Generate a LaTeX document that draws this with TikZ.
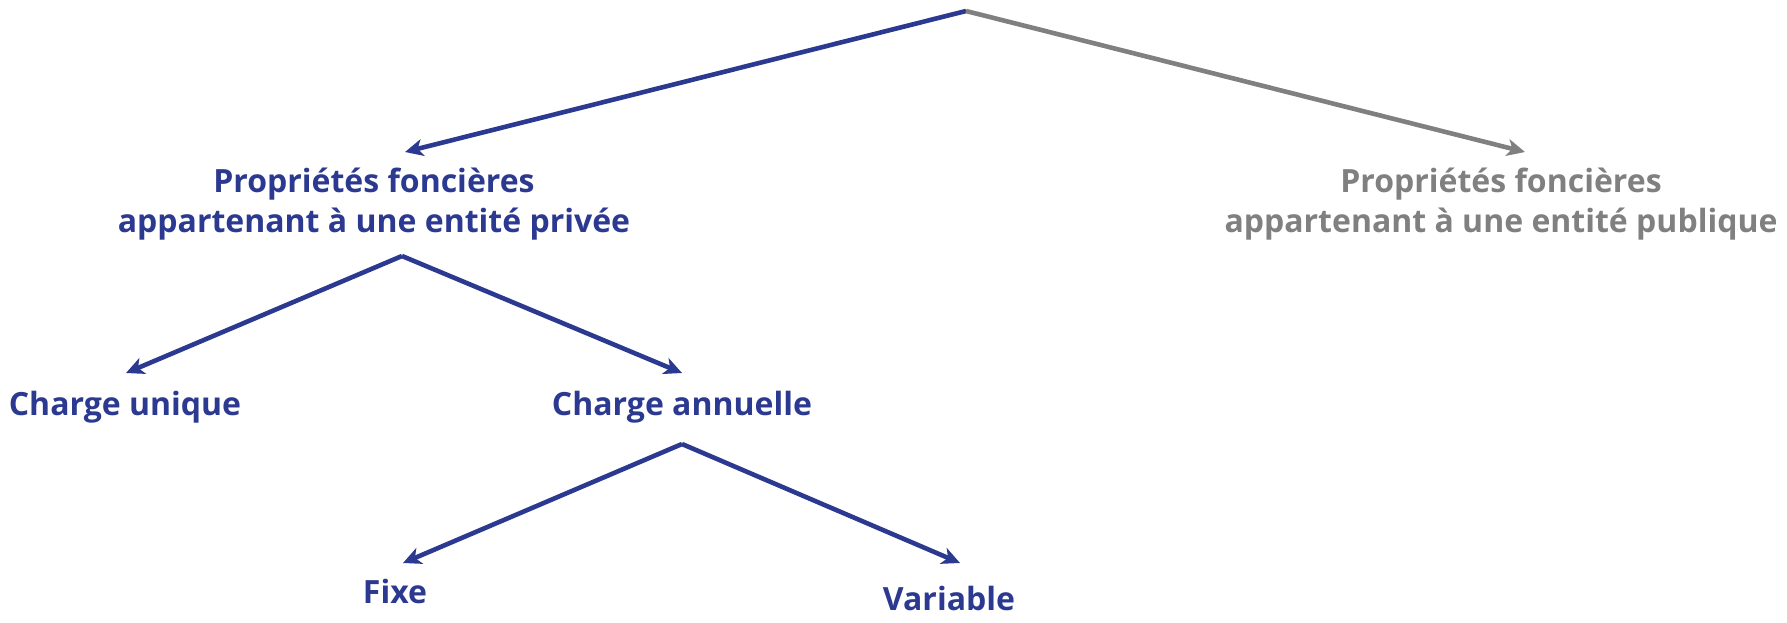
\documentclass[tikz,border=0pt]{standalone}
\usepackage{fontspec}
\setmainfont{Open Sans}
\usetikzlibrary{arrows.meta}
\definecolor{navy}{HTML}{2B3990}
\definecolor{greyline}{HTML}{808080}
\begin{document}
\begin{tikzpicture}[x=0.5pt,y=-0.5pt,
  lbl/.style={font=\bfseries\fontsize{16}{20}\selectfont, text=navy, inner sep=0pt, align=center, anchor=base},
  link/.style={draw=navy, line width=2.3pt, line join=round,
               -{Stealth[length=9pt,width=8.5pt,inset=2.5pt]}},
  greylink/.style={link, draw=greyline},
]
\useasboundingbox (0,0) rectangle (1787,622);

% branching points
\coordinate (root) at (966,11);
\coordinate (privFork) at (402,256);
\coordinate (annFork) at (682,444);

% labels (two-line labels are anchored on their last baseline)
\node[lbl] (priv) at (374,232) {Propriétés foncières\\appartenant à une entité privée};
\node[lbl, text=greyline] (pub) at (1501,232) {Propriétés foncières\\appartenant à une entité publique};
\node[lbl] (unique) at (125,415) {Charge unique};
\node[lbl] (annual) at (682,415) {Charge annuelle};
\node[lbl] (fixe) at (395,603) {Fixe};
\node[lbl] (var) at (949,610) {Variable};

% arrow ends above each label
\coordinate (privTip) at (405,152);
\coordinate (pubTip) at (1525,152);
\coordinate (uniqueTip) at (126,373);
\coordinate (annualTip) at (682,373);
\coordinate (fixeTip) at (403,563);
\coordinate (varTip) at (960,563);

% connectors
\draw[link] (root) -- (privTip);
\draw[greylink] (root) -- (pubTip);
\draw[link] (privFork) -- (uniqueTip);
\draw[link] (privFork) -- (annualTip);
\draw[link] (annFork) -- (fixeTip);
\draw[link] (annFork) -- (varTip);
\end{tikzpicture}
\end{document}
